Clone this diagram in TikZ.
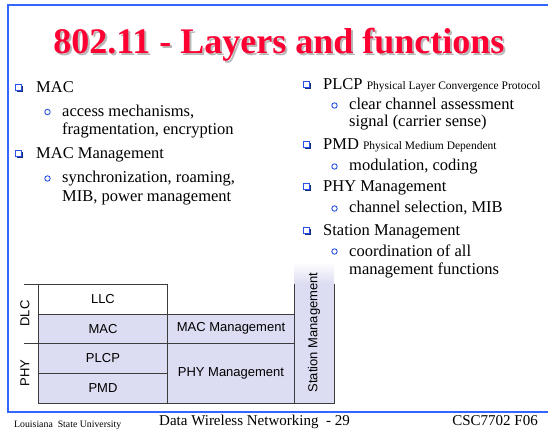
\documentclass[tikz,border=0pt]{standalone}
\usepackage{fontspec}
\setmainfont{Liberation Serif}
\setsansfont{Liberation Sans}
\usetikzlibrary{calc}

\definecolor{frameblue}{RGB}{51,102,255}
\definecolor{bulletblue}{RGB}{40,80,230}
\definecolor{titlered}{RGB}{255,0,51}
\definecolor{lav}{RGB}{220,220,242}
\definecolor{edgegray}{RGB}{60,60,60}

\tikzset{
  body/.style={anchor=base west, inner sep=0pt, font=\fontsize{16.5}{19}\selectfont},
  sqbul/.style={draw=bulletblue, line width=1pt, fill=white, minimum size=6.2pt, inner sep=0pt},
  sqshadow/.style={fill=bulletblue!55!black, minimum size=6.2pt, inner sep=0pt},
  circbul/.style={circle, draw=bulletblue, line width=0.9pt, minimum size=5.4pt, inner sep=0pt},
  layer/.style={draw=edgegray, line width=0.9pt, anchor=north west, inner sep=0pt,
    font=\sffamily\fontsize{13}{15}\selectfont},
  side/.style={rotate=90, inner sep=0pt, font=\sffamily\fontsize{13}{15}\selectfont},
  foot/.style={anchor=base west, inner sep=0pt, font=\fontsize{15}{17}\selectfont},
}

\newcommand\squarebullet[2]{%
  \node[sqshadow] at ($(#1)+(1.3,1.3)$) {};
  \node[sqbul] (#2) at (#1) {};}

\begin{document}
\begin{tikzpicture}[x=1pt,y=-1pt]
\useasboundingbox (0,0) rectangle (548,430);

% slide frame
\draw[frameblue, line width=1.3pt] (548,5) -- (8,5) -- (8,412) -- (548,412);

% title with drop shadow
\node[anchor=base, inner sep=0pt, text=black!28, font=\bfseries\fontsize{36}{40}\selectfont]
  (titleshadow) at (281,56) {802.11 - Layers and functions};
\node[anchor=base, inner sep=0pt, text=titlered, font=\bfseries\fontsize{36}{40}\selectfont]
  (title) at (279,54) {802.11 - Layers and functions};

% left column
\squarebullet{18.5,87.5}{lb1}
\node[body] (mac) at (36,93) {MAC};
\node[circbul] (lc1) at (47.5,112) {};
\node[body] (mac1) at (62,116.5) {access mechanisms,};
\node[body] (mac2) at (62,135) {fragmentation, encryption};
\squarebullet{18.5,153.5}{lb2}
\node[body] (macm) at (36,159) {MAC Management};
\node[circbul] (lc2) at (47.5,178.5) {};
\node[body] (macm1) at (62,183) {synchronization, roaming,};
\node[body] (macm2) at (62,202) {MIB, power management};

% right column
\squarebullet{306.5,84.5}{rb1}
\node[body] (plcp) at (323,90) {PLCP {\fontsize{11.5}{13}\selectfont Physical Layer Convergence Protocol}};
\node[circbul] (rc1) at (334.5,105.5) {};
\node[body] (plcp1) at (349,110) {clear channel assessment};
\node[body] (plcp2) at (349,127) {signal (carrier sense)};
\squarebullet{306.5,144.5}{rb2}
\node[body] (pmd) at (323,150) {PMD {\fontsize{11.5}{13}\selectfont Physical Medium Dependent}};
\node[circbul] (rc2) at (334.5,166.5) {};
\node[body] (pmd1) at (349,171) {modulation, coding};
\squarebullet{306.5,186.5}{rb3}
\node[body] (phym) at (323,192) {PHY Management};
\node[circbul] (rc3) at (334.5,208.5) {};
\node[body] (phym1) at (349,213) {channel selection, MIB};
\squarebullet{306.5,230.5}{rb4}
\node[body] (stm) at (323,236) {Station Management};
\node[circbul] (rc4) at (334.5,251.5) {};
\node[body] (stm1) at (349,256) {coordination of all};
\node[body] (stm2) at (349,274) {management functions};

% layer stack
\node[layer, fill=white, minimum width=129pt, minimum height=29.5pt] (llc) at (38,284) {LLC};
\node[layer, fill=lav, minimum width=129pt, minimum height=29.5pt] (macl) at (38,313.5) {MAC};
\node[layer, fill=lav, minimum width=129pt, minimum height=30pt] (plcpl) at (38,343) {PLCP};
\node[layer, fill=lav, minimum width=129pt, minimum height=30pt] (pmdl) at (38,373) {PMD};
\node[layer, fill=lav, minimum width=127pt, minimum height=29.5pt] (macml) at (167,313.5) {MAC Management};
\node[layer, fill=lav, minimum width=127pt, minimum height=60pt] (phyml) at (167,343) {PHY Management};

% station management column, fading in at the top
\coordinate (stTL) at (294,262);
\coordinate (stML) at (294,284);
\coordinate (stMR) at (334,284);
\coordinate (stBL) at (294,403);
\coordinate (stBR) at (334,403);
\shade[top color=white, bottom color=lav] (stTL) rectangle (stMR);
\fill[lav] (stML) rectangle (stBR);
\draw[edgegray, line width=0.9pt] (stML) -- (stBL) -- (stBR) -- (stMR);
\node[side] (stml) at (314,332.5) {Station Management};

% DLC / PHY brackets on the left
\coordinate (dlcT) at (24,284);
\coordinate (phyT) at (24,343);
\draw[edgegray, line width=0.9pt] (dlcT) -- (llc.north west);
\draw[edgegray, line width=0.9pt] (phyT) -- (plcpl.north west);
\node[side] (dlc) at (25,313.5) {DLC};
\node[side] (phy) at (25,373) {PHY};

% footer
\node[anchor=base west, inner sep=0pt, font=\fontsize{9.8}{11}\selectfont] (lsu) at (14,427.5) {Louisiana\ \ State University};
\node[foot] (course) at (159,425.5) {Data Wireless Networking\ \ - 29};
\node[anchor=base east, inner sep=0pt, font=\fontsize{15}{17}\selectfont] (code) at (538,425.5) {CSC7702 F06};
\end{tikzpicture}
\end{document}
